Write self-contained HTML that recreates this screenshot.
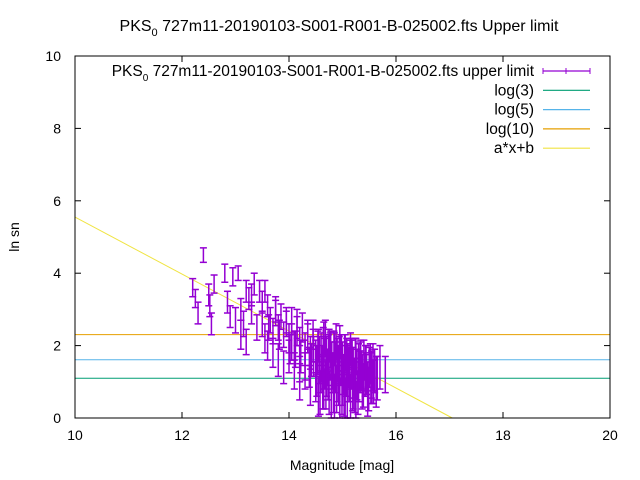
<!DOCTYPE html>
<html><head><meta charset="utf-8">
<style>
body{margin:0;background:#fff;}
svg{display:block;font-family:"Liberation Sans",sans-serif;}
</style></head>
<body>
<svg id="chart" width="640" height="480" viewBox="0 0 640 480">
<rect width="640" height="480" fill="#fff"/>
<text x="339" y="31" font-size="16" text-anchor="middle">PKS<tspan font-size="11" dy="5">0</tspan><tspan dy="-5"> 727m11-20190103-S001-R001-B-025002.fts Upper limit</tspan></text>
<text transform="translate(19,237) rotate(-90)" font-size="14" text-anchor="middle">ln sn</text>
<text x="342" y="470" font-size="14" text-anchor="middle">Magnitude [mag]</text>
<g id="axes"></g>
<g id="lines"></g>
<g id="points"></g>
<g id="legend"></g>
<rect x="75" y="56" width="535" height="362" fill="none" stroke="#000" stroke-width="1"/>
</svg>
<script>
const xTicks=[10,12,14,16,18,20];
const yTicks=[0,2,4,6,8,10];
const hLineNames=["log(3)","log(5)","log(10)"];
const hLineValues=[Math.log(3),Math.log(5),Math.log(10)];
const hLineColors=["#009e73","#56b4e9","#e69f00"];
const fitA=-0.787, fitB=13.42;
const mags=[12.2,12.25,12.3,12.4,12.5,12.52,12.55,12.6,12.8,12.85,12.9,12.95,13.0,13.05,13.1,13.1,13.15,13.2,13.2,13.25,13.3,13.3,13.35,13.4,13.45,13.5,13.5,13.55,13.6,13.6,13.65,13.7,13.7,13.75,13.8,13.8,13.85,13.9,13.9,13.95,14.0,14.0,14.05,14.1,14.1,14.15,14.2,14.2,14.25,14.3,14.3,14.35,14.4,14.4,14.45,14.5,14.5,14.55,14.55,14.6,14.6,14.65,14.65,14.7,14.7,14.75,14.75,14.8,14.8,14.85,14.85,14.9,14.9,14.95,14.95,15.0,15.0,15.05,15.05,15.1,15.1,15.15,15.15,15.2,15.2,15.25,15.25,15.3,15.3,15.35,15.4,15.45,15.5,15.55,15.6,15.65,15.7,15.8,13.55,13.75,13.95,14.15,14.35,14.45,14.62,14.72,14.82,14.92,15.02,15.12,15.22,15.32,15.42,15.52,15.58,14.68,14.78,14.88,14.98,15.08,15.18,13.62,13.82,14.02,14.22,14.42,
14.52,14.57,14.63,14.67,14.73,14.77,14.83,14.87,14.93,14.97,15.03,15.07,15.13,15.17,15.23,15.27,15.33,15.37,15.43,15.47,15.53,15.57,15.63,14.54,14.64,14.74,14.84,14.94,15.04,15.14,15.24,15.34,15.44,15.54,14.58,14.69,14.79,14.89,14.99,15.09,15.19,15.29,15.39,15.49,14.3,14.38,14.46,14.12,14.2,14.05];
const vals=[3.6,3.3,2.9,4.5,3.4,3.1,2.6,3.7,4.0,3.2,2.8,3.9,2.7,4.0,3.0,2.3,2.6,3.5,2.1,3.3,3.4,2.9,3.7,2.5,3.5,3.2,2.6,2.2,3.1,2.0,2.7,2.4,1.8,2.9,2.5,1.6,2.8,2.3,1.4,2.6,2.2,1.7,2.7,2.0,1.3,2.4,2.1,1.0,2.5,1.9,1.3,2.2,1.8,0.9,2.3,1.7,1.0,2.0,0.6,1.9,1.2,2.2,0.8,1.8,1.1,2.0,0.7,1.6,1.2,1.9,0.6,1.7,1.0,2.1,0.5,1.6,0.9,1.8,0.5,1.5,1.0,1.9,0.6,1.4,0.8,1.7,0.4,1.5,1.0,1.3,1.6,1.2,1.4,1.0,1.3,1.1,1.4,1.2,3.5,3.0,2.7,2.6,2.3,2.0,1.5,1.4,1.3,1.5,1.2,1.4,1.1,1.3,1.2,1.5,1.0,2.2,1.9,2.1,1.8,1.7,1.6,2.5,2.3,1.9,1.7,1.6,
1.3,1.6,1.0,1.5,1.2,1.7,0.9,1.4,1.1,1.6,0.8,1.3,1.2,1.5,0.9,1.2,1.4,1.0,1.3,0.8,1.1,1.4,1.0,1.8,1.9,1.7,1.8,1.6,1.7,1.5,1.6,1.5,1.4,1.2,0.7,0.9,0.6,0.8,0.7,0.6,0.8,0.7,0.9,0.8,1.6,1.4,1.7,1.9,1.5,2.1];
const errs=[0.25,0.25,0.3,0.2,0.3,0.3,0.3,0.25,0.25,0.3,0.3,0.25,0.35,0.2,0.3,0.4,0.35,0.3,0.35,0.3,0.3,0.3,0.3,0.35,0.3,0.3,0.35,0.4,0.3,0.4,0.35,0.35,0.4,0.35,0.35,0.45,0.35,0.35,0.45,0.35,0.4,0.45,0.35,0.4,0.5,0.4,0.4,0.5,0.4,0.45,0.5,0.4,0.45,0.55,0.4,0.45,0.55,0.45,0.55,0.45,0.5,0.45,0.55,0.45,0.5,0.45,0.6,0.5,0.5,0.45,0.6,0.5,0.55,0.45,0.6,0.5,0.55,0.5,0.6,0.55,0.55,0.45,0.6,0.55,0.55,0.5,0.6,0.55,0.55,0.55,0.55,0.55,0.55,0.6,0.6,0.6,0.6,0.5,0.3,0.35,0.35,0.4,0.4,0.45,0.5,0.5,0.5,0.5,0.55,0.55,0.55,0.55,0.6,0.55,0.6,0.5,0.5,0.5,0.5,0.5,0.55,0.35,0.4,0.4,0.45,0.45,
0.7,0.65,0.75,0.7,0.7,0.65,0.75,0.7,0.75,0.7,0.75,0.7,0.75,0.7,0.75,0.7,0.7,0.75,0.7,0.75,0.7,0.65,0.7,0.6,0.6,0.6,0.6,0.65,0.6,0.65,0.6,0.65,0.6,0.65,0.6,0.65,0.6,0.65,0.6,0.65,0.6,0.6,0.6,0.6,0.55,0.55,0.55,0.5,0.5,0.5];

const NS="http://www.w3.org/2000/svg";
const X0=75,X1=610,Y0=418,Y1=56;
function sx(v){return X0+(v-10)/(20-10)*(X1-X0);}
function sy(v){return Y0-(v-0)/(10-0)*(Y0-Y1);}
function mk(tag,attrs,parent){const e=document.createElementNS(NS,tag);for(const k in attrs)e.setAttribute(k,attrs[k]);parent.appendChild(e);return e;}
const axes=document.getElementById('axes');
xTicks.forEach(t=>{
  const g=mk('g',{},axes);
  
  
  mk('line',{x1:sx(t),x2:sx(t),y1:Y0,y2:Y0-6,stroke:'#000'},g);
  mk('line',{x1:sx(t),x2:sx(t),y1:Y1,y2:Y1+6,stroke:'#000'},g);
  const tx=mk('text',{x:sx(t),y:Y0+22,'font-size':14,'text-anchor':'middle'},g);tx.textContent=t;
});
yTicks.forEach(t=>{
  const g=mk('g',{},axes);
  
  
  mk('line',{x1:X0,x2:X0+6,y1:sy(t),y2:sy(t),stroke:'#000'},g);
  mk('line',{x1:X1,x2:X1-6,y1:sy(t),y2:sy(t),stroke:'#000'},g);
  const tx=mk('text',{x:X0-14,y:sy(t)+5,'font-size':14,'text-anchor':'end'},g);tx.textContent=t;
});
const lines=document.getElementById('lines');
hLineValues.forEach((v,i)=>{
  const l=mk('line',{x1:X0,x2:X1,y1:sy(v),y2:sy(v),stroke:hLineColors[i],'stroke-width':1},lines);
  
  
});
let xa=10,xb=-fitB/fitA; if(xb>20)xb=20;
const fl=mk('line',{x1:sx(xa),y1:sy(fitA*xa+fitB),x2:sx(xb),y2:sy(fitA*xb+fitB),stroke:'#f0e442','stroke-width':1},lines);


const pts=document.getElementById('points');
mags.forEach((m,i)=>{
  const g=mk('g',{stroke:'#9400d3','stroke-width':1.5},pts);
  
  
  const x=sx(m),yl=sy(Math.max(0,vals[i]-errs[i])),yh=sy(vals[i]+errs[i]);
  mk('line',{x1:x,x2:x,y1:yl,y2:yh},g);
  mk('line',{x1:x-3.5,x2:x+3.5,y1:yl,y2:yl},g);
  mk('line',{x1:x-3.5,x2:x+3.5,y1:yh,y2:yh},g);
});
const lg=document.getElementById('legend');
const legLabels=["upper limit",...hLineNames,"a*x+b"];
const legColors=["#9400d3",...hLineColors,"#f0e442"];
legLabels.forEach((lab,i)=>{
  const y=71+i*19.3;
  const g=mk('g',{},lg);
  
  
  const t=mk('text',{x:534,y:y+5,'font-size':15.5,'text-anchor':'end'},g);
  if(i===0){
    t.innerHTML='PKS<tspan font-size="10" dy="5">0</tspan><tspan dy="-5"> 727m11-20190103-S001-R001-B-025002.fts upper limit</tspan>';
  } else t.textContent=lab;
  mk('line',{x1:543,x2:590,y1:y,y2:y,stroke:legColors[i],'stroke-width':1.2},g);
  if(i===0){
    mk('line',{x1:543,x2:543,y1:y-3,y2:y+3,stroke:legColors[i]},g);
    mk('line',{x1:590,x2:590,y1:y-3,y2:y+3,stroke:legColors[i]},g);
    mk('line',{x1:566,x2:566,y1:y-3,y2:y+3,stroke:legColors[i]},g);
  }
});
</script>
</body></html>
